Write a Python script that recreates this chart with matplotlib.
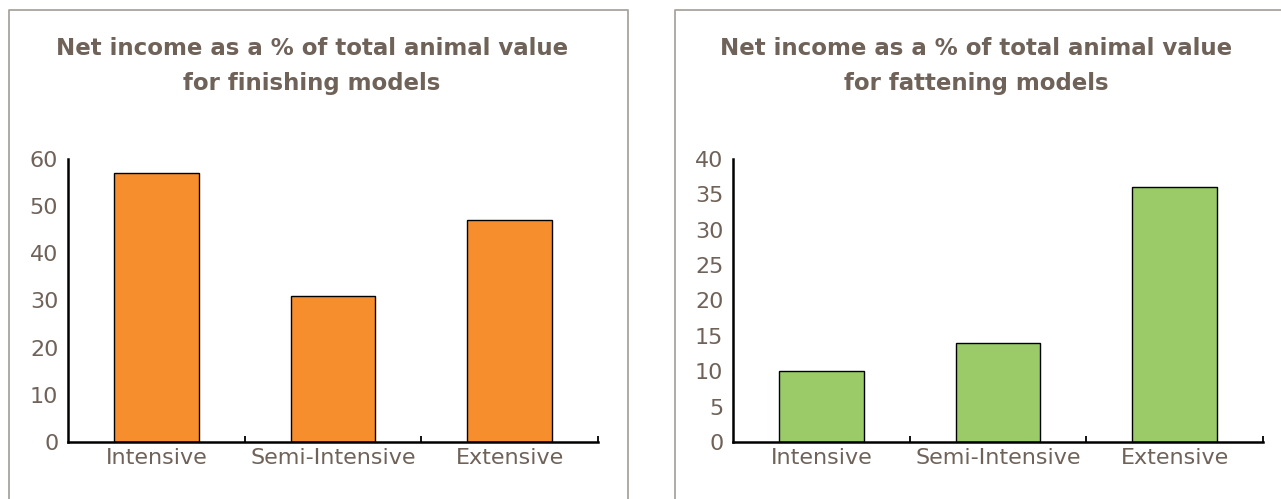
import matplotlib
matplotlib.use("Agg")
import matplotlib.pyplot as plt
from matplotlib.lines import Line2D

plt.rcParams['font.family'] = ['DejaVu Sans']

# Net income as a share of total animal value, by production model
categories = ["Intensive", "Semi-Intensive", "Extensive"]
finishing_values = [57, 31, 47]
fattening_values = [10, 14, 36]

finishing_title = "Net income as a % of total animal value\nfor finishing models"
fattening_title = "Net income as a % of total animal value\nfor fattening models"

finishing_ticks = [0, 10, 20, 30, 40, 50, 60]
fattening_ticks = [0, 5, 10, 15, 20, 25, 30, 35, 40]

TEXT = "#6f6259"
FRAME = "#aaa49f"
W, H = 1281, 499

fig = plt.figure(figsize=(W / 100, H / 100), dpi=100)
fig.patch.set_facecolor("white")


def px(x, y):
    # pixel position (from top-left) -> figure fraction
    return x / W, 1 - y / H


# panel frames
for xs, ys in [([9, 9, 628, 628], [H + 5, 10, 10, H + 5]),
               ([675, 675, W + 5], [H + 5, 10, 10])]:
    fx = [x / W for x in xs]
    fy = [1 - y / H for y in ys]
    fig.add_artist(Line2D(fx, fy, color=FRAME, lw=1.3, transform=fig.transFigure))


def panel(left_px, values, color, ticks, title, title_x):
    ax = fig.add_axes([left_px / W, (H - 442) / H, 530 / W, 283 / H])
    pos = range(len(categories))
    ax.bar(pos, values, width=0.48, color=color, edgecolor="black", linewidth=1.0)
    ax.set_xlim(-0.5, len(categories) - 0.5)
    ax.set_ylim(ticks[0], ticks[-1])
    ax.set_yticks(ticks)
    ax.set_xticks(list(pos))
    ax.set_xticklabels(categories)
    ax.set_xticks([p + 0.5 for p in pos], minor=True)
    ax.tick_params(axis="x", which="major", length=0, pad=4, labelsize=16, labelcolor=TEXT)
    ax.tick_params(axis="x", which="minor", direction="in", length=4, width=1.3, color="black")
    ax.tick_params(axis="y", length=0, pad=7, labelsize=16, labelcolor=TEXT)
    for side in ["top", "right"]:
        ax.spines[side].set_visible(False)
    for side in ["left", "bottom"]:
        ax.spines[side].set_linewidth(1.8)
        ax.spines[side].set_color("black")
    tx, ty = px(title_x, 66)
    fig.text(tx, ty, title, ha="center", va="center", fontsize=16.5, fontweight="bold",
             color=TEXT, linespacing=1.7)
    return ax


panel(68, finishing_values, "#f68e2e", finishing_ticks, finishing_title, 312)
panel(733, fattening_values, "#9acb68", fattening_ticks, fattening_title, 976)

fig.savefig("out.png", dpi=100, facecolor="white")
